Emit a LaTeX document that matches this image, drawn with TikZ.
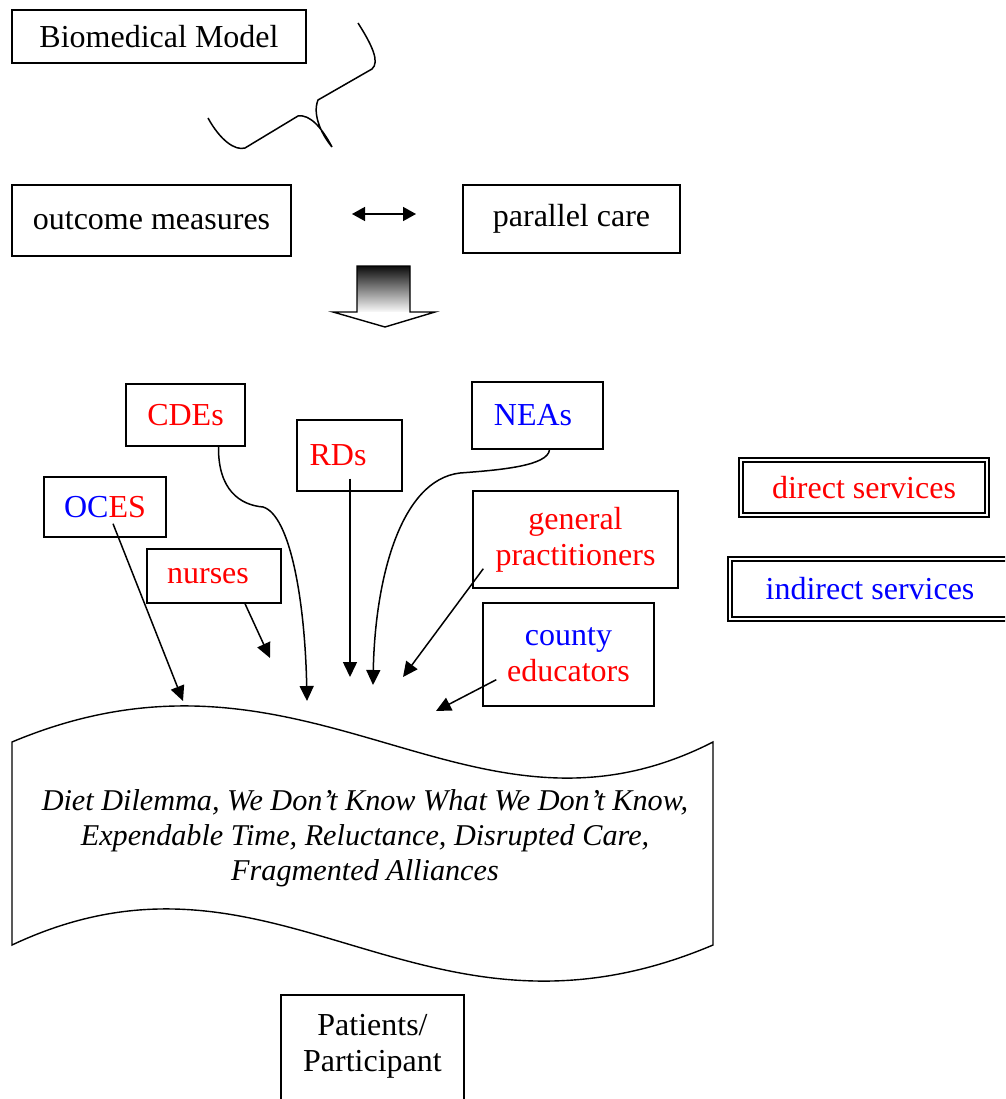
\documentclass[tikz,border=0pt]{standalone}
\usepackage{fontspec}
\setmainfont{Liberation Serif}
\usetikzlibrary{arrows.meta,calc}
\definecolor{cred}{RGB}{255,0,0}
\definecolor{cblue}{RGB}{0,0,255}
\begin{document}
\begin{tikzpicture}[x=1pt,y=-1pt,
  txt/.style={font=\fontsize{32}{36}\selectfont, align=center, inner sep=0pt},
  box/.style={txt, draw, line width=1.4pt},
  dbox/.style={txt, draw, line width=2pt, double=white, double distance=2pt},
  arr/.style={line width=1.5pt, -{Triangle[length=15pt,width=14pt]}},
  curve/.style={line width=1.5pt}]
\useasboundingbox (0,0) rectangle (1005,1099);
\clip (0,0) rectangle (1005,1099);

% top boxes
\node[box, minimum width=294pt, minimum height=53pt] (bio) at (159,36.5) {\raisebox{-3pt}{Biomedical Model}};
\node[box, minimum width=279pt, minimum height=71pt] (outcome) at (151.5,220.5) {\raisebox{-2pt}{outcome measures}};
\node[box, minimum width=217pt, minimum height=68pt] (parallel) at (571.5,219) {\raisebox{-2pt}{parallel care}};

% curly line
\draw[curve] (358,23) .. controls (372,45) and (380,62) .. (372,69) -- (318,100)
  .. controls (312,115) and (322,135) .. (332,147)
  .. controls (322,128) and (310,114) .. (298,116) -- (245,148)
  .. controls (235,151) and (220,140) .. (208,118);

% double arrow
\coordinate (da1) at (352,214);
\coordinate (da2) at (416,214);
\draw[line width=1.5pt, {Triangle[length=13pt,width=14pt]}-{Triangle[length=13pt,width=14pt]}] (da1) -- (da2);

% block arrow
\shade[top color=black!95, bottom color=white] (357,266) rectangle (410,313);
\fill[white] (333,312) -- (435,312) -- (385,327) -- cycle;
\draw[line width=1.4pt, line join=miter] (357,312) -- (357,266) -- (410,266) -- (410,312) -- (435,312) -- (385,327) -- (333,312) -- cycle;

% source boxes
\node[box, minimum width=119pt, minimum height=62pt, text=cred] (cdes) at (185.5,415) {CDEs};
\node[box, minimum width=105pt, minimum height=71pt, text=cred] (rds) at (349.5,455.5) {\hspace*{-23pt}RDs};
\node[box, minimum width=131pt, minimum height=67pt, text=cblue] (nea) at (537.5,415.5) {\hspace*{-9pt}NEAs};
\node[box, minimum width=122pt, minimum height=60pt] (oces) at (105,507) {\textcolor{cblue}{OC}\textcolor{cred}{ES}};
\node[box, minimum width=205pt, minimum height=97pt, text=cred] (gp) at (575.5,539.5) {general\\practitioners};
\node[box, minimum width=134pt, minimum height=54pt, text=cred] (nurses) at (214,576) {\hspace*{-12pt}\raisebox{-3pt}{nurses}};
\node[box, minimum width=171pt, minimum height=103pt] (county) at (568.5,654.5) {\textcolor{cblue}{county}\\\textcolor{cred}{educators}};

% legend
\node[dbox, minimum width=246pt, minimum height=55pt, text=cred] (direct) at (864,487.5) {\raisebox{-3pt}{direct services}};
\node[dbox, minimum width=280pt, minimum height=60pt, text=cblue] (indirect) at (870,589) {\raisebox{-3pt}{indirect services}};

% wave document
\draw[line width=1.4pt] (12,742) .. controls (310,617) and (468,867) .. (713,742)
  -- (713,945) .. controls (417.5,1070) and (277.5,820) .. (12,945) -- cycle;
\node[txt, font=\fontsize{30.2}{35}\selectfont\itshape] (wave) at (365,838)
  {Diet Dilemma, We Don’t Know What We Don’t Know,\\Expendable Time, Reluctance, Disrupted Care,\\Fragmented Alliances};

% targets
\coordinate (t1) at (183,701);
\coordinate (t2) at (270,658);
\coordinate (t3) at (307,701);
\coordinate (t4) at (350,677);
\coordinate (t5) at (373,685);
\coordinate (t6) at (403,677);
\coordinate (t7) at (436,711);

% connectors
\draw[arr] ($(oces.south)+(8,-14)$) -- (t1);
\draw[arr] ($(nurses.south)+(31,0)$) -- (t2);
\draw[arr] ($(cdes.south)+(33,0)$) .. controls (218,490) and (240,505) .. (263,507)
  .. controls (290,515) and (305,600) .. (t3);
\draw[arr] ($(rds.south)+(0.5,-13)$) -- (t4);
\draw[arr] ($(nea.south)+(12,0)$) .. controls (548,466) and (500,470) .. (460,473)
  .. controls (400,480) and (375,580) .. (t5);
\draw[arr] ($(gp.south west)+(11,-20)$) -- (t6);
\draw[arr] ($(county.south west)+(14,-27)$) -- (t7);

% patients
\node[box, minimum width=183pt, minimum height=130pt] (pat) at (372.5,1060) {};
\node[txt] (pattext) at (372.5,1046) {Patients/\\Participant};
\end{tikzpicture}
\end{document}
